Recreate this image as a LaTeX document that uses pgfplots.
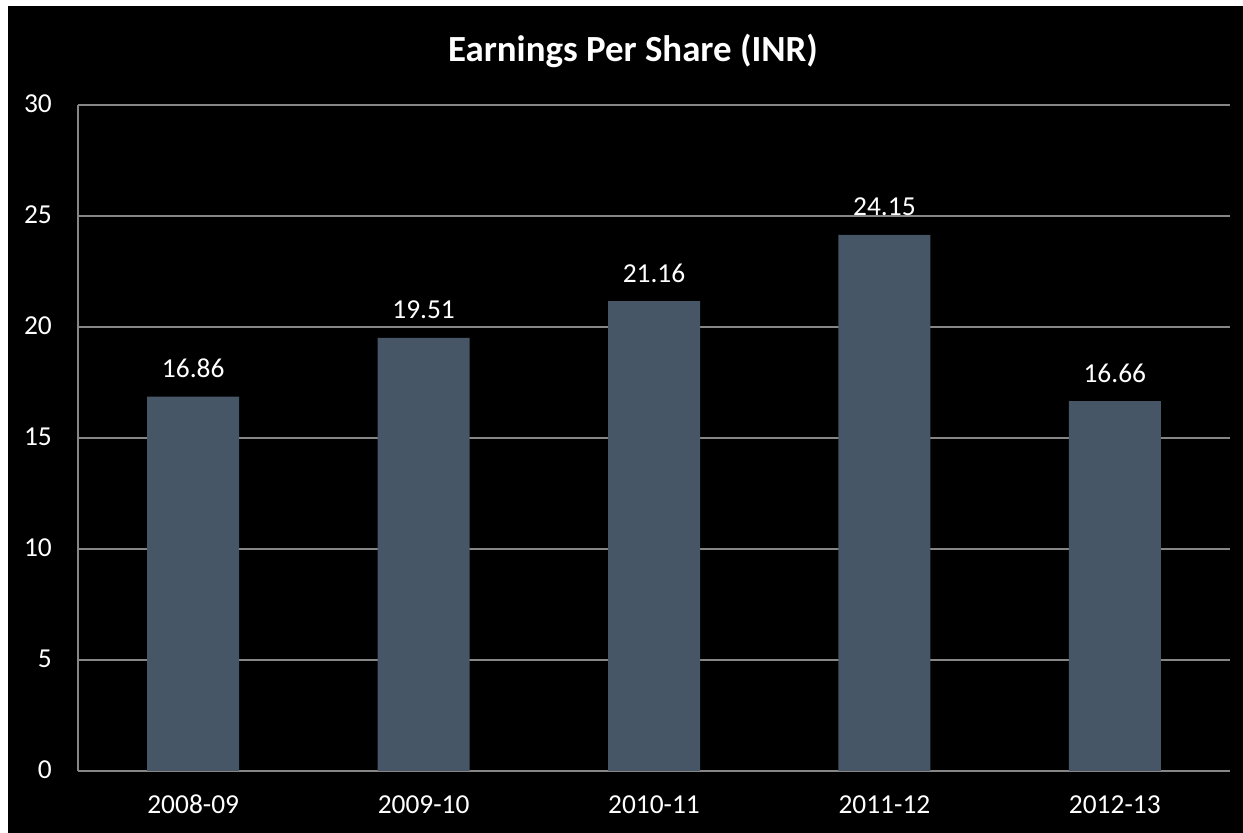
\documentclass[border=0pt]{standalone}
\usepackage{fontspec}
\setmainfont{Carlito}
\usepackage{pgfplots}
\pgfplotsset{compat=1.18}
\definecolor{barc}{RGB}{70,86,102}
\definecolor{gridc}{RGB}{134,134,134}
\begin{document}
\begin{tikzpicture}[x=1bp,y=1bp]
\fill[white] (0,0) rectangle (1243,833);
\fill[black] (8,0) rectangle (1243,827);
\node[font=\fontsize{37}{44}\selectfont\bfseries, text=white, anchor=base, inner sep=0pt] at (633,771) {Earnings Per Share (INR)};
\begin{axis}[at={(78bp,62bp)}, anchor=south west, width=1152bp, height=666bp, scale only axis,
 xmin=-0.5, xmax=4.5, ymin=0, ymax=30, ytick={0,5,...,30}, xtick=data,
 xticklabels={2008-09,2009-10,2010-11,2011-12,2012-13},
 axis x line=bottom, axis y line=left, axis line style={gridc, line width=1.5bp, -},
 ymajorgrids, grid style={gridc, line width=1.5bp}, major tick length=0,
 ticklabel style={text=white, font=\fontsize{27.5}{33}\selectfont, inner sep=0pt},
 yticklabel style={anchor=base east, xshift=-26bp, yshift=-8bp},
 xticklabel style={anchor=base, yshift=-43bp},
 /pgf/number format/assume math mode=true,
 ybar, bar width=92bp,
 nodes near coords,
 nodes near coords style={text=white, font=\fontsize{27.5}{33}\selectfont, anchor=base, yshift=19bp, inner sep=0pt, /pgf/number format/fixed, /pgf/number format/precision=2, /pgf/number format/fixed zerofill},
 ]
\addplot[fill=barc, draw=none] coordinates {(0,16.86) (1,19.51) (2,21.16) (3,24.15) (4,16.66)};
\end{axis}
\end{tikzpicture}
\end{document}
